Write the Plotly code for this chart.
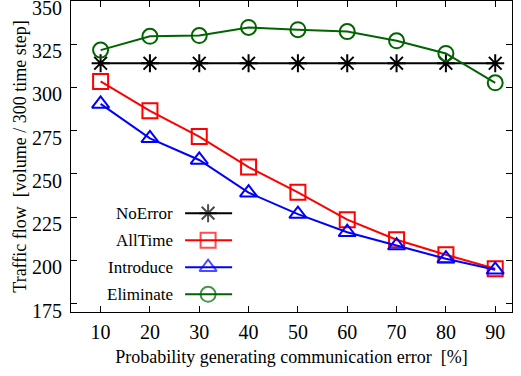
import plotly.graph_objects as go

x_vals = [10, 20, 30, 40, 50, 60, 70, 80, 90]
no_error = [314, 314, 314, 314, 314, 314, 314, 314, 314]
all_time = [303.5, 286.5, 271.6, 254.0, 239.4, 223.6, 212.0, 203.3, 195.2]
introduce = [290.5, 270.6, 258.1, 239.2, 226.8, 216.3, 208.6, 201.0, 194.6]
eliminate = [321.6, 329.6, 330.0, 334.7, 333.4, 332.3, 327.0, 319.7, 302.7]

series_names = ["NoError", "AllTime", "Introduce", "Eliminate"]
series_data = [no_error, all_time, introduce, eliminate]
colors = ["#000000", "#ff0000", "#0000ff", "#006400"]
symbols = ["asterisk-open", "square-open", "triangle-up-open", "circle-open"]
sizes = [15, 15, 15, 15]

y_ticks = [175, 200, 225, 250, 275, 300, 325, 350]
x_ticks = x_vals

FONT = "Liberation Serif"

fig = go.Figure()
for name, data, c, s, sz in zip(series_names, series_data, colors, symbols, sizes):
    fig.add_trace(go.Scatter(
        x=x_vals, y=data, mode="lines+markers", name=name,
        line=dict(color=c, width=2),
        marker=dict(symbol=s, size=sz, color=c, line=dict(color=c, width=2)),
        showlegend=False, cliponaxis=False,
    ))

# custom legend (text right, sample on the right) on overlay pixel axes
leg_rows = [212, 239, 266, 293]
for i, (name, c, s, sz) in enumerate(zip(series_names, colors, symbols, sizes)):
    fig.add_trace(go.Scatter(
        x=[114, 137, 161], y=[leg_rows[i]] * 3, mode="lines+markers",
        line=dict(color=c, width=2),
        marker=dict(symbol=s, size=[0, sz, 0], color=c, line=dict(color=c, width=2)),
        xaxis="x2", yaxis="y2", showlegend=False, hoverinfo="skip",
    ))
    fig.add_annotation(
        x=104, y=leg_rows[i], xref="x2", yref="y2", text=name,
        showarrow=False, xanchor="right", yanchor="middle",
        font=dict(family=FONT, size=17, color="black"),
    )

axis_common = dict(
    showline=True, linecolor="black", linewidth=1.2, mirror="ticks",
    ticks="inside", ticklen=6, tickcolor="black", tickwidth=1,
    showgrid=False, zeroline=False, automargin=False, ticklabeloverflow="allow",
    tickfont=dict(family=FONT, size=20, color="black"),
)

fig.update_layout(
    width=521, height=376,
    margin=dict(l=71, r=9, t=1, b=64),
    paper_bgcolor="white", plot_bgcolor="white",
    font=dict(family=FONT, color="black"),
    xaxis=dict(range=[4, 93.4], tickvals=x_ticks, ticklabelstandoff=2,
               title=dict(text="Probability generating communication error  [%]",
                          font=dict(family=FONT, size=18, color="black"), standoff=8),
               **axis_common),
    yaxis=dict(range=[170.2, 350], tickvals=y_ticks, ticklabelstandoff=4, ticklabelshift=7,
               title=dict(text="Traffic flow  [volume / 300 time step]",
                          font=dict(family=FONT, size=18, color="black"), standoff=0),
               **axis_common),
    xaxis2=dict(range=[0, 440.7], overlaying="x", visible=False, fixedrange=True),
    yaxis2=dict(range=[310.7, 0], overlaying="y", visible=False, fixedrange=True),
)

fig.write_html("out.html", config={"displayModeBar": False},
               post_script="document.body.style.margin='0';document.body.style.padding='0';")
